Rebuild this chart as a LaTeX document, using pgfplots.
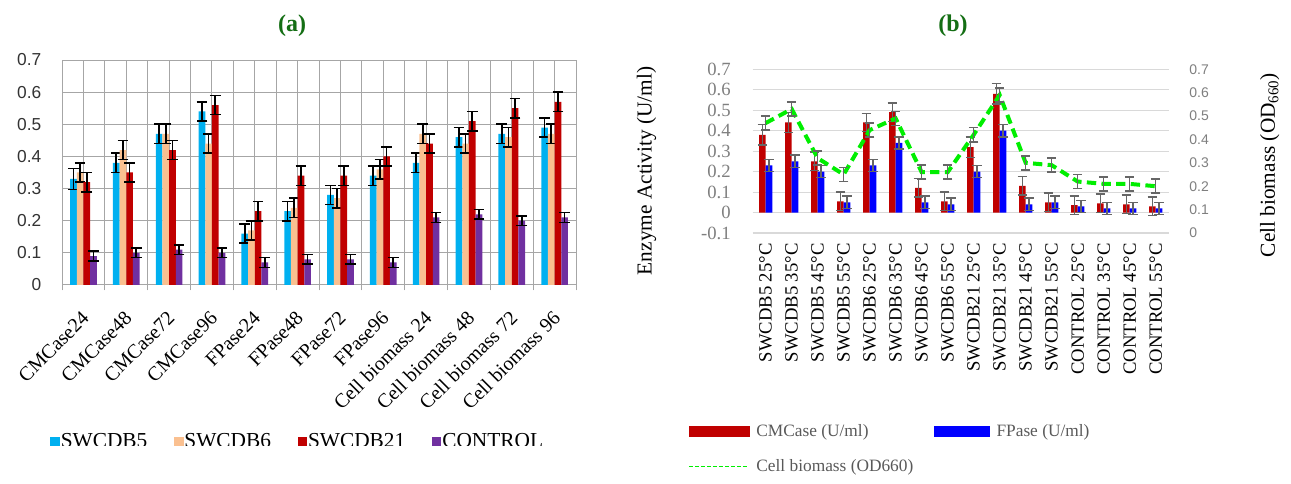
\documentclass[border=0pt]{standalone}
\usepackage{fontspec}
\setmainfont{Liberation Serif}
\setsansfont{Liberation Sans}
\usepackage{pgfplots}
\pgfplotsset{compat=1.18}
\usepackage{pgfplotstable}
\definecolor{cA}{HTML}{00B0F0}
\definecolor{cB}{HTML}{FAC090}
\definecolor{cC}{HTML}{C00000}
\definecolor{cD}{HTML}{7030A0}
\definecolor{cBlue}{HTML}{0000FF}
\definecolor{cGreen}{HTML}{00EE00}
\definecolor{ttl}{RGB}{20,110,20}
\definecolor{gridA}{HTML}{A6A6A6}
\definecolor{gridB}{HTML}{D9D9D9}
\definecolor{txtB}{HTML}{7F7F7F}
\definecolor{legB}{HTML}{595959}
\definecolor{errB}{HTML}{666666}

\pgfplotstableread{
x s5 s6 s21 ct e5 e6 e21 ect
0 0.33 0.35 0.32 0.09 0.033 0.030 0.030 0.016
1 0.38 0.42 0.35 0.10 0.030 0.030 0.030 0.015
2 0.47 0.47 0.42 0.11 0.030 0.030 0.030 0.015
3 0.54 0.44 0.56 0.10 0.030 0.030 0.030 0.015
4 0.16 0.17 0.23 0.07 0.030 0.030 0.030 0.015
5 0.23 0.24 0.34 0.08 0.030 0.030 0.030 0.015
6 0.28 0.27 0.34 0.08 0.030 0.030 0.030 0.015
7 0.34 0.36 0.40 0.07 0.030 0.030 0.030 0.015
8 0.38 0.47 0.44 0.21 0.030 0.030 0.030 0.015
9 0.46 0.44 0.51 0.22 0.030 0.030 0.030 0.015
10 0.47 0.46 0.55 0.20 0.030 0.030 0.030 0.015
11 0.49 0.47 0.57 0.21 0.030 0.030 0.030 0.015
}\dataA

\pgfplotstableread{
x cm fp cb ecm efp ecb
0 0.38 0.23 0.47 0.050 0.030 0.030
1 0.44 0.25 0.53 0.050 0.030 0.030
2 0.25 0.20 0.32 0.045 0.030 0.030
3 0.055 0.05 0.25 0.045 0.030 0.030
4 0.44 0.23 0.44 0.045 0.030 0.030
5 0.49 0.34 0.49 0.045 0.030 0.030
6 0.12 0.05 0.26 0.045 0.030 0.030
7 0.055 0.04 0.26 0.045 0.030 0.030
8 0.32 0.20 0.42 0.050 0.030 0.030
9 0.58 0.40 0.59 0.050 0.030 0.030
10 0.13 0.04 0.30 0.045 0.030 0.030
11 0.05 0.05 0.29 0.045 0.030 0.030
12 0.036 0.03 0.22 0.045 0.030 0.030
13 0.045 0.02 0.21 0.045 0.030 0.030
14 0.04 0.02 0.21 0.045 0.030 0.030
15 0.03 0.02 0.20 0.045 0.030 0.030
}\dataB

\pgfplotsset{
  errA/.style={error bars/.cd, y dir=both, y explicit,
    error bar style={black, line width=1.2pt},
    error mark options={black, line width=1.2pt, mark size=4pt, rotate=90}},
  errBs/.style={error bars/.cd, y dir=both, y explicit,
    error bar style={errB, line width=1.1pt, solid},
    error mark options={errB, line width=1.1pt, mark size=3.6pt, rotate=90, solid}},
}

\begin{document}
\begin{tikzpicture}[x=1pt,y=1pt]
\useasboundingbox (0,0) rectangle (968.25,363);
\node[font=\rmfamily\bfseries\fontsize{18}{20}\selectfont, text=ttl] at (219,343.5) {(a)};
\node[font=\rmfamily\bfseries\fontsize{18}{20}\selectfont, text=ttl] at (714.75,343.5) {(b)};

\begin{scope}
\clip (0,28.5) rectangle (480,363);
\begin{axis}[
  at={(46.5pt,149.25pt)}, anchor=south west, scale only axis,
  width=385.5pt, height=168.75pt,
  xmin=-0.5, xmax=11.5, ymin=0, ymax=0.7,
  ybar=0pt, bar width=5pt,
  xtick={0,...,11},
  xticklabels={CMCase24,CMCase48,CMCase72,CMCase96,FPase24,FPase48,FPase72,FPase96,Cell biomass 24,Cell biomass 48,Cell biomass 72,Cell biomass 96},
  minor xtick={-0.5,0.5,...,11.5},
  ytick={0,0.1,0.2,0.3,0.4,0.5,0.6,0.7},
  yticklabels={0,0.1,0.2,0.3,0.4,0.5,0.6,0.7},
  xmajorgrids, xminorgrids, ymajorgrids,
  major grid style={gridA, line width=0.75pt},
  minor grid style={gridA, line width=0.75pt},
  axis line style={gridA, line width=0.75pt},
  major tick length=0pt, minor tick length=4pt, tick align=outside,
  minor tick style={gridA, line width=0.75pt},
  xtick pos=bottom, ytick pos=left,
  xticklabel style={font=\rmfamily\fontsize{15}{15}\selectfont, xshift=4pt, yshift=-20pt, rotate=45, anchor=east},
  yticklabel style={font=\sffamily\fontsize{13}{13}\selectfont, text=black!80, xshift=-12pt},
  legend columns=4,
  legend cell align=left,
  legend style={at={(-0.023,-0.695)}, anchor=west, draw=none, fill=none, inner sep=0pt,
    font=\rmfamily\fontsize{16}{16}\selectfont, nodes={inner sep=1pt, font=\rmfamily\fontsize{16}{16}\selectfont},
    /tikz/every even column/.append style={column sep=19pt}},
]
\addplot[fill=cA, draw=none, forget plot, bar shift=-7.5pt, errA] table[x=x, y=s5, y error=e5] {\dataA};
\addplot[fill=cB, draw=none, forget plot, bar shift=-2.5pt, errA] table[x=x, y=s6, y error=e6] {\dataA};
\addplot[fill=cC, draw=none, forget plot, bar shift=2.5pt, errA] table[x=x, y=s21, y error=e21] {\dataA};
\addplot[fill=cD, draw=none, forget plot, bar shift=7.5pt, errA] table[x=x, y=ct, y error=ect] {\dataA};
\addlegendimage{legend image code/.code={\fill[cA] (0pt,-3.2pt) rectangle (6.4pt,3.2pt);}}
\addlegendentry{SWCDB5}
\addlegendimage{legend image code/.code={\fill[cB] (0pt,-3.2pt) rectangle (6.4pt,3.2pt);}}
\addlegendentry{SWCDB6}
\addlegendimage{legend image code/.code={\fill[cC] (0pt,-3.2pt) rectangle (6.4pt,3.2pt);}}
\addlegendentry{SWCDB21}
\addlegendimage{legend image code/.code={\fill[cD] (0pt,-3.2pt) rectangle (6.4pt,3.2pt);}}
\addlegendentry{CONTROL}
\end{axis}
\end{scope}

\begin{axis}[
  at={(564.5pt,188.25pt)}, anchor=south west, scale only axis,
  width=312pt, height=122.8pt,
  xmin=-0.5, xmax=15.5, ymin=-0.1, ymax=0.7,
  ybar=0pt, bar width=5pt,
  xtick={0,...,15},
  xticklabels={SWCDB5 25°C,SWCDB5 35°C,SWCDB5 45°C,SWCDB5 55°C,SWCDB6 25°C,SWCDB6 35°C,SWCDB6 45°C,SWCDB6 55°C,SWCDB21 25°C,SWCDB21 35°C,SWCDB21 45°C,SWCDB21 55°C,CONTROL 25°C,CONTROL 35°C,CONTROL 45°C,CONTROL 55°C},
  ytick={-0.1,0,0.1,0.2,0.3,0.4,0.5,0.6,0.7},
  yticklabels={-0.1,0,0.1,0.2,0.3,0.4,0.5,0.6,0.7},
  ymajorgrids, major grid style={gridB, line width=0.8pt},
  axis line style={draw=none}, tick style={draw=none},
  xticklabel style={font=\fontsize{14}{14}\selectfont, rotate=90, anchor=east},
  yticklabel style={font=\fontsize{14}{14}\selectfont, text=txtB, xshift=-13pt},
  ylabel={Enzyme Activity (U/ml)},
  ylabel style={at={(axis description cs:-0.255,0.38)}, anchor=center, font=\fontsize{16}{16}\selectfont},
  legend columns=2,
  legend cell align=left,
  legend style={at={(-0.1555,-1.155)}, anchor=north west, draw=none, fill=none, inner sep=0pt,
    font=\fontsize{13}{13}\selectfont, text=legB, nodes={inner sep=1.5pt},
    row sep=13pt,
    /tikz/every even column/.append style={column sep=14pt}},
]
\addplot[fill=cC, draw=none, forget plot, bar shift=-2.5pt, errBs] table[x=x, y=cm, y error=ecm] {\dataB};
\addplot[fill=cBlue, draw=none, forget plot, bar shift=2.5pt, errBs] table[x=x, y=fp, y error=efp] {\dataB};
\addlegendimage{legend image code/.code={\fill[cC] (0pt,-3.75pt) rectangle (45pt,3.75pt); \path (49pt,0pt);}}
\addlegendentry{CMCase (U/ml)}
\addlegendimage{legend image code/.code={\fill[cBlue] (0pt,-3.75pt) rectangle (41pt,3.75pt); \path (45pt,0pt);}}
\addlegendentry{FPase (U/ml)}
\addlegendimage{legend image code/.code={\draw[cGreen, line width=0.8pt, dash pattern=on 3pt off 1.5pt] (0pt,0pt) -- (45pt,0pt); \path (49pt,0pt);}}
\addlegendentry{Cell biomass (OD660)}
\end{axis}

\begin{axis}[
  at={(564.5pt,188.25pt)}, anchor=south west, scale only axis,
  width=312pt, height=122.8pt,
  xmin=-0.5, xmax=15.5, ymin=0, ymax=0.7,
  axis x line=none, axis y line*=right,
  y axis line style={draw=none}, ytick style={draw=none},
  ytick={0,0.1,0.2,0.3,0.4,0.5,0.6,0.7},
  yticklabels={0,0.1,0.2,0.3,0.4,0.5,0.6,0.7},
  yticklabel style={font=\sffamily\fontsize{10.5}{10.5}\selectfont, text=txtB, xshift=12pt},
  ylabel={Cell biomass (OD\textsubscript{660})},
  ylabel style={at={(axis description cs:1.243,0.415)}, anchor=center, font=\fontsize{16}{16}\selectfont},
]
\addplot[cGreen, line width=3pt, dash pattern=on 7pt off 4pt, no marks, errBs] table[x=x, y=cb, y error=ecb] {\dataB};
\end{axis}
\end{tikzpicture}
\end{document}
